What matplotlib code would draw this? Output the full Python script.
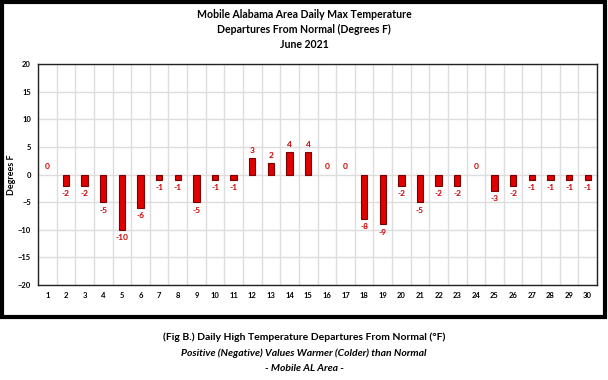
import numpy as np
import matplotlib.pyplot as plt
from matplotlib.patches import Rectangle

plt.rcParams['font.family'] = ['Lato', 'DejaVu Sans']

days = np.arange(1, 31)
departures = np.array([0, -2, -2, -5, -10, -6, -1, -1, -5, -1,
                       -1, 3, 2, 4, 4, 0, 0, -8, -9, -2,
                       -5, -2, -2, 0, -3, -2, -1, -1, -1, -1])
yticks = [-20, -15, -10, -5, 0, 5, 10, 15, 20]

fig = plt.figure(figsize=(6.08, 3.8), dpi=100)

# black frame around the chart area
fig.patches.append(Rectangle((0.003, 0.166), 0.992, 0.830, transform=fig.transFigure,
                             fill=False, edgecolor='black', linewidth=3))

ax = fig.add_axes([38 / 608, 95 / 380, 559 / 608, 221 / 380])

nz = departures != 0
ax.bar(days[nz], departures[nz], width=0.34, color='#e00000', edgecolor='#7a0000',
       linewidth=0.8, zorder=3)

for d, v in zip(days, departures):
    if v < 0:
        ax.text(d, v - 0.8, str(v), ha='center', va='top', color='#d00000',
                fontsize=6, fontweight='bold')
    else:
        ax.text(d, v + 0.8, str(v), ha='center', va='bottom', color='#d00000',
                fontsize=6, fontweight='bold')

ax.set_xlim(0.5, 30.5)
ax.set_ylim(-20, 20)
ax.set_xticks(days)
ax.set_xticklabels([str(d) for d in days])
ax.set_yticks(yticks)
ax.set_xticks(np.arange(0.5, 31, 1), minor=True)
ax.tick_params(axis='both', which='both', length=0, labelsize=5.5, pad=5)
for lab in ax.get_xticklabels() + ax.get_yticklabels():
    lab.set_fontweight('bold')
ax.grid(which='minor', axis='x', color='#dddddd', linewidth=1, zorder=0)
ax.grid(which='major', axis='y', color='#dddddd', linewidth=1, zorder=0)
for s in ax.spines.values():
    s.set_color('#222222')
    s.set_linewidth(1)
ax.set_ylabel('Degrees F', fontsize=6.5, fontweight='bold')
ax.yaxis.set_label_coords(-22 / 559, 0.5)

title_lines = ['Mobile Alabama Area Daily Max Temperature',
               'Departures From Normal (Degrees F)', 'June 2021']
for i, t in enumerate(title_lines):
    fig.text(0.5, 0.962 - 0.04 * i, t, ha='center', va='center',
             fontsize=7.6, fontweight='bold')

fig.text(0.5, 0.113, '(Fig B.) Daily High Temperature Departures From Normal (°F)',
         ha='center', va='center', fontsize=7.5, fontweight='bold')
fig.text(0.5, 0.071, 'Positive (Negative) Values Warmer (Colder) than Normal',
         ha='center', va='center', fontsize=7.5, fontweight='bold', style='italic')
fig.text(0.5, 0.031, '- Mobile AL Area -',
         ha='center', va='center', fontsize=7.5, fontweight='bold', style='italic')

fig.savefig('out.png', dpi=100)
